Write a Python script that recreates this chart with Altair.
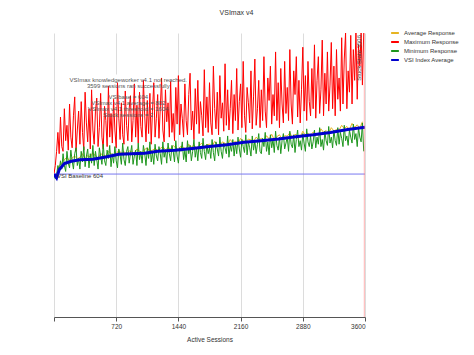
import altair as alt
import pandas as pd

# ---------------- data ----------------
sessions_fine = list(range(0, 3600, 15))    # 240 sample points (max / min)
sessions_coarse = list(range(0, 3600, 30))  # 120 sample points (average)

max_resp = [
    605, 640, 700, 780, 690, 845, 720, 700, 880, 745, 810, 705, 900, 760, 715, 850, 930, 700, 790, 870,
    730, 910, 780, 705, 950, 820, 740, 880, 710, 960, 790, 730, 870, 925, 720, 800, 945, 760, 710, 890,
    830, 720, 975, 760, 860, 735, 920, 790, 715, 990, 840, 750, 905, 770, 730, 955, 810, 745, 880, 935,
    740, 830, 985, 760, 895, 735, 950, 805, 760, 1000, 850, 740, 915, 775, 945, 730, 870, 990, 760, 840,
    940, 755, 880, 1010, 790, 740, 960, 825, 905, 760, 995, 780, 860, 745, 970, 815, 1020, 770, 900, 840,
    760, 985, 830, 770, 940, 1030, 790, 870, 750, 965, 815, 1000, 775, 910, 850, 765, 1045, 800, 930, 780,
    990, 820, 770, 1060, 880, 795, 950, 770, 1020, 840, 905, 785, 1070, 810, 960, 790, 880, 1000, 775, 940,
    830, 1050, 790, 910, 985, 800, 1080, 850, 780, 970, 905, 820, 1040, 795, 930, 1090, 810, 880, 1000, 800,
    960, 830, 1100, 870, 800, 1010, 915, 1060, 815, 940, 850, 1120, 830, 990, 800, 1050, 900, 820, 1080, 860,
    970, 830, 1130, 900, 815, 1040, 940, 1100, 845, 1000, 820, 960, 1140, 870, 1020, 830, 1080, 910, 850, 1050,
    880, 1150, 840, 1000, 1100, 860, 960, 1170, 850, 1030, 900, 1120, 870, 980, 1160, 880, 1060, 850, 1130, 920,
    1010, 870, 1180, 900, 1090, 1200, 880, 1040, 950, 1190, 900, 1130, 1000, 1200, 920, 1150, 1060, 1200, 980, 1200,
]

min_resp = [
    598, 585, 600, 640, 615, 660, 625, 690, 640, 615, 700, 650, 630, 705, 660, 625, 690, 715, 640, 670,
    625, 700, 655, 720, 635, 680, 710, 630, 690, 650, 725, 640, 700, 665, 625, 715, 680, 645, 730, 660,
    640, 705, 670, 725, 635, 690, 650, 720, 660, 630, 710, 685, 645, 735, 665, 640, 700, 720, 650, 690,
    725, 645, 680, 705, 640, 735, 665, 700, 650, 725, 690, 640, 715, 670, 740, 655, 695, 645, 730, 680,
    660, 720, 690, 645, 740, 675, 705, 650, 735, 690, 660, 725, 700, 655, 745, 680, 650, 715, 700, 740,
    665, 705, 655, 745, 690, 725, 660, 700, 750, 675, 715, 660, 740, 695, 670, 755, 700, 665, 730, 690,
    715, 670, 750, 695, 660, 740, 710, 680, 760, 700, 670, 735, 715, 690, 765, 675, 725, 700, 750, 680,
    735, 690, 760, 710, 675, 750, 720, 695, 770, 685, 740, 715, 680, 765, 705, 745, 690, 730, 775, 700,
    690, 755, 720, 780, 700, 740, 685, 770, 715, 750, 695, 785, 725, 705, 760, 690, 745, 775, 710, 735,
    760, 700, 785, 730, 715, 770, 695, 750, 790, 720, 745, 705, 775, 735, 700, 795, 740, 720, 765, 710,
    740, 790, 715, 760, 730, 800, 720, 750, 705, 785, 745, 725, 805, 735, 760, 715, 790, 745, 725, 800,
    730, 780, 755, 720, 810, 745, 765, 725, 790, 760, 735, 815, 750, 775, 720, 800, 760, 740, 820, 700,
]

avg_resp = [
    603, 600, 640, 650, 665, 675, 660, 672, 680, 668,
    675, 690, 668, 682, 676, 695, 680, 672, 690, 684,
    680, 700, 690, 684, 688, 705, 692, 698, 690, 702,
    698, 692, 710, 700, 694, 708, 715, 700, 705, 712,
    704, 712, 720, 706, 716, 710, 725, 714, 708, 722,
    716, 710, 730, 718, 726, 714, 724, 735, 720, 728,
    730, 722, 742, 728, 724, 740, 734, 728, 750, 736,
    742, 734, 755, 744, 738, 752, 748, 742, 760, 748,
    755, 745, 766, 752, 772, 748, 762, 770, 752, 766,
    764, 778, 758, 772, 766, 760, 785, 768, 776, 766,
    782, 772, 768, 795, 780, 788, 776, 800, 786, 792,
    790, 810, 796, 805, 792, 818, 802, 812, 798, 825,
]

vsi_x = [0, 30, 60, 120, 200, 300, 450, 600, 750, 900, 1050, 1200, 1400,
         1600, 1800, 2000, 2200, 2400, 2600, 2800, 3000, 3200, 3400, 3599]
vsi_avg = [604, 588, 622, 648, 658, 664, 667, 676, 688, 690, 692, 700, 705,
           712, 720, 728, 738, 745, 752, 762, 770, 780, 792, 802]

series_names = ["Average Response", "Maximum Response", "Minimum Response", "VSI Index Average"]
series_colors = ["#e6b422", "#ff0000", "#1e961e", "#0000cc"]

baseline = 604
stuck_at = 3592
stuck_label = "Stuck State 3506"
info_lines = [
    "VSImax knowledgeworker v4.1 not reached.",
    "3599 sessions ran successfully",
    "VSIbase = 604",
    "VSImax v4.1 average = 802",
    "VSImax v4.1 threshold = 1604",
    "Stuck sessions = 2",
]
info_y = [1001, 976, 929, 904, 879, 853]

# ---------------- frames ----------------
def frame(xs, ys, name):
    return pd.DataFrame({"x": xs, "y": ys, "series": name})

df_avg = frame(sessions_coarse, avg_resp, series_names[0])
df_max = frame(sessions_fine, max_resp, series_names[1])
df_min = frame(sessions_fine, min_resp, series_names[2])
df_vsi = frame(vsi_x, vsi_avg, series_names[3])

FONT = "Liberation Sans"

xscale = alt.Scale(domain=[0, 3600], nice=False, zero=True)
yscale = alt.Scale(domain=[0, 1200], nice=False)

color = alt.Color(
    "series:N",
    scale=alt.Scale(domain=series_names, range=series_colors),
    legend=alt.Legend(
        title=None, orient="none", legendX=336, legendY=-5,
        symbolType="stroke", symbolStrokeWidth=2, symbolSize=60,
        labelFontSize=6, labelFont=FONT, labelColor="#333333",
        rowPadding=0, labelOffset=4, padding=0,
    ),
)

xaxis = alt.Axis(values=[0, 720, 1440, 2160, 2880, 3600], title="Active Sessions",
                 labelExpr="datum.value == 0 ? '' : datum.label", format="d")
yaxis = alt.Axis(values=[0, 240, 480, 720, 960, 1200], title="Response time, ms",
                 labelExpr="datum.value == 0 ? '' : datum.label", format="d")

def line(df, width, opacity=1.0):
    return alt.Chart(df).mark_line(strokeWidth=width, opacity=opacity, clip=True).encode(
        x=alt.X("x:Q", scale=xscale, axis=xaxis),
        y=alt.Y("y:Q", scale=yscale, axis=yaxis),
        color=color,
    )

# white box behind the info text (covers grid, under data)
box_df = pd.DataFrame({"x": [165], "x2": [1310], "y": [1025], "y2": [830]})
box = alt.Chart(box_df).mark_rect(color="white").encode(
    x=alt.X("x:Q", scale=xscale), x2="x2", y=alt.Y("y:Q", scale=yscale), y2="y2")

info_df = pd.DataFrame({"x": [860] * len(info_lines), "y": info_y, "t": info_lines})
info = alt.Chart(info_df).mark_text(
    fontSize=6, font=FONT, color="#555555", align="center", baseline="middle",
).encode(x=alt.X("x:Q", scale=xscale), y=alt.Y("y:Q", scale=yscale), text="t:N")

base_df = pd.DataFrame({"y": [baseline], "x": [0], "x2": [3600],
                        "t": [f"VSI Baseline {baseline}"]})
base_rule = alt.Chart(base_df).mark_rule(color="#7878f0", strokeWidth=1).encode(
    x=alt.X("x:Q", scale=xscale), x2="x2", y=alt.Y("y:Q", scale=yscale))
base_text = alt.Chart(base_df).mark_text(
    fontSize=6, font=FONT, color="#333333", align="left", baseline="middle", dx=2, dy=2
).encode(x=alt.value(1), y=alt.Y("y:Q", scale=yscale, axis=None), text="t:N")

stuck_df = pd.DataFrame({"x": [stuck_at], "y": [0], "y2": [1200], "t": [stuck_label]})
stuck_rule = alt.Chart(stuck_df).mark_rule(color="#ff8080", strokeWidth=1, opacity=0.6).encode(
    x=alt.X("x:Q", scale=xscale), y=alt.Y("y:Q", scale=yscale), y2="y2")
stuck_text = alt.Chart(stuck_df).mark_text(
    fontSize=6, font=FONT, color="#444444", angle=270, align="right",
    baseline="bottom", dy=-2, dx=-2,
).encode(x=alt.X("x:Q", scale=xscale), y=alt.Y("y2:Q", scale=yscale), text="t:N")

chart = alt.layer(
    box,
    line(df_avg, 1),
    line(df_max, 1),
    line(df_min, 1),
    base_rule,
    line(df_vsi, 3),
    info,
    base_text,
    stuck_rule,
    stuck_text,
).properties(
    width=311, height=284,
    title=alt.TitleParams("VSImax v4", fontSize=7, font=FONT, fontWeight="normal",
                          color="#333333", offset=12, dx=27),
    autosize=alt.AutoSizeParams(type="none"),
    padding={"left": 46, "top": 25, "right": 100, "bottom": 30},
).configure_view(stroke=None).configure_axis(
    labelFont=FONT, titleFont=FONT, labelFontSize=6.5, titleFontSize=6.5,
    labelColor="#333333", titleColor="#333333", titleFontWeight="normal",
    domainColor="#555555", tickColor="#555555", tickSize=4,
    gridColor="#dcdcdc", gridWidth=1,
).configure_axisY(titlePadding=10, labelPadding=2).configure_axisX(titlePadding=7, labelPadding=2)

chart.save("out.html", embed_options={"renderer": "svg", "actions": False})
